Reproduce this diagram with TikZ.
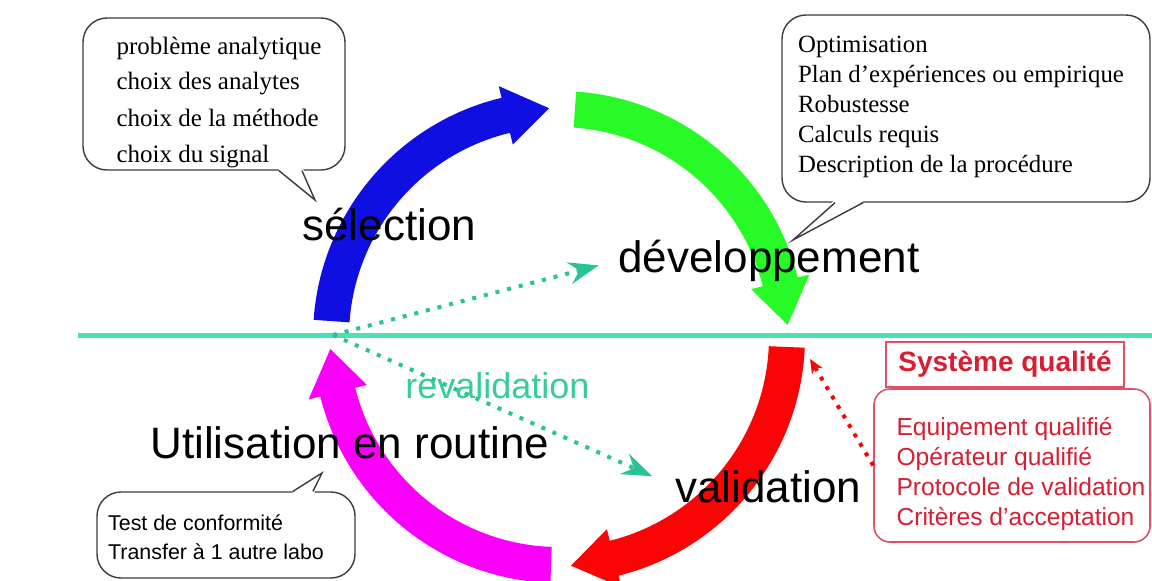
\documentclass[tikz,border=0pt]{standalone}
\usepackage{fontspec}
\setmainfont{Liberation Sans}
\newfontfamily\notefont{Liberation Serif}
\usetikzlibrary{calc,arrows.meta}

\definecolor{selblue}{RGB}{15,15,225}
\definecolor{devgreen}{RGB}{40,250,40}
\definecolor{valred}{RGB}{250,5,5}
\definecolor{usemagenta}{RGB}{250,0,250}
\definecolor{lineteal}{RGB}{75,225,180}
\definecolor{dotteal}{RGB}{40,195,150}
\definecolor{revteal}{RGB}{55,205,155}
\definecolor{qualred}{RGB}{215,30,50}
\definecolor{qualframe}{RGB}{225,80,100}
\definecolor{noteframe}{RGB}{60,60,60}

% one coloured quarter of the cycle: start angle, base of the head, tip
\newcommand{\cyclearrow}[4]{%
  \fill[#1] (#2:246) arc[start angle=#2, end angle=#3, radius=246]
    -- (#3:258) -- (#4:229) -- (#3:198) -- (#3:210)
    arc[start angle=#3, end angle=#2, radius=210] -- cycle;}

\begin{document}
\begin{tikzpicture}[x=0.5pt, y=-0.5pt]

% definitions
\tikzstyle{bigword} = [anchor=base west, inner sep=0pt, font=\fontsize{22}{26}\selectfont]

\tikzstyle{note} = [draw=noteframe, line width=0.7pt, fill=white, rounded corners=12pt]

\tikzstyle{notetext} = [align=left, inner sep=0pt]

\tikzstyle{qualbox} = [draw=qualframe, line width=0.8pt, fill=white]

\tikzstyle{tail} = [noteframe, line width=0.7pt]

\tikzstyle{revarrow} = [->, >={Stealth[length=15pt, width=11pt, inset=5pt]}, dotteal, line width=2pt, dash pattern=on 2pt off 4pt]

\tikzstyle{qualarrow} = [->, >={Stealth[length=7pt, width=6pt, inset=2pt]}, valred, line width=2pt, dash pattern=on 2pt off 3.5pt]

\clip (0,0) rectangle (1152,580);
\fill[white] (0,0) rectangle (1152,580);


% separation line
\draw[lineteal, line width=2.5pt] (78,335) -- (1152,335);
\coordinate (hub) at (333,335);


% cycle
\begin{scope}[shift={(559,337)}, yscale=-1]
\cyclearrow{selblue}{176}{103.5}{92.5}
\cyclearrow{devgreen}{86}{14}{3}
\cyclearrow{valred}{-2.5}{-76}{-87}
\cyclearrow{usemagenta}{268}{194}{183}
\coordinate (redstart) at (-5:252);
\end{scope}


% notes
\node (selnote) [note, minimum width=131pt, minimum height=76pt] at (214,94) {};
\node (seltext) [notetext, font=\notefont\fontsize{12.5}{18}\selectfont] at (219,102) {problème analytique\\choix des analytes\\choix de la méthode\\choix du signal};
\coordinate (seltip) at (315,200);
\fill[white] ($(selnote.south)+(64,-2)$) -- (seltip) -- ($(selnote.south)+(89,-2)$) -- cycle;
\draw[tail] ($(selnote.south)+(65,0)$) -- (seltip) -- ($(selnote.south)+(88,0)$);

\node (devnote) [note, minimum width=184pt, minimum height=93.5pt] at (966,108.5) {};
\node (devtext) [notetext, font=\notefont\fontsize{12.4}{15}\selectfont] at (961,107) {Optimisation\\Plan d’expériences ou empirique\\Robustesse\\Calculs requis\\Description de la procédure};
\coordinate (devtip) at (793,240);
\fill[white] ($(devnote.south)+(-132,-2)$) -- (devtip) -- ($(devnote.south)+(-102,-2)$) -- cycle;
\draw[tail] ($(devnote.south)+(-131,0)$) -- (devtip) -- ($(devnote.south)+(-103,0)$);

\node (usenote) [note, minimum width=129pt, minimum height=43pt] at (226,535) {};
\node (usetext) [notetext, font=\fontsize{10.7}{14.5}\selectfont] at (216,537) {Test de conformité\\Transfer à 1 autre labo};
\coordinate (usetip) at (322,473);
\fill[white] ($(usenote.north)+(66,2)$) -- (usetip) -- ($(usenote.north)+(88,2)$) -- cycle;
\draw[tail] ($(usenote.north)+(67,0)$) -- (usetip) -- ($(usenote.north)+(87,0)$);


% stage names
\node (sel) [bigword] at (302,240) {sélection};
\node (devel) [bigword] at (618,272) {développement};
\node (util) [bigword] at (150,458) {Utilisation en routine};
\node (valid) [bigword] at (675,502) {validation};
\node (reval) [anchor=base west, inner sep=0pt, text=revteal, font=\fontsize{18}{22}\selectfont] at (405,398) {revalidation};

\draw [revarrow, shorten >=10pt] (hub) -- (devel.west);
\draw [revarrow, shorten >=12.5pt] (hub) -- (valid.west);


% quality system
\node (qualtitle) [qualbox, text=qualred, font=\bfseries\fontsize{14}{16}\selectfont, minimum width=119pt, minimum height=22.5pt] at (1005,364.5) {Système qualité};
\node (quality) [qualbox, rounded corners=8pt, minimum width=138pt, minimum height=76.5pt] at (1012,465.5) {};
\node (qualtext) [notetext, text=qualred, font=\fontsize{12.3}{15}\selectfont] at (1021,473.5) {Equipement qualifié\\Opérateur qualifié\\Protocole de validation\\Critères d'acceptation};

\draw [qualarrow] (quality.west) -- (redstart);

\end{tikzpicture}
\end{document}
